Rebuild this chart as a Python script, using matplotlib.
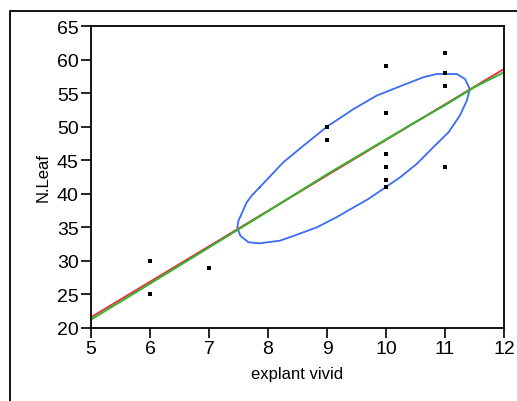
import matplotlib
matplotlib.use("Agg")
import matplotlib.pyplot as plt
from matplotlib.patches import Rectangle

plt.rcParams['font.family'] = ['Liberation Sans', 'DejaVu Sans']

# observed points
explant_vivid = [6, 6, 7, 9, 9, 10, 10, 10, 10, 10, 10, 11, 11, 11, 11]
n_leaf = [30, 25, 29, 50, 48, 59, 52, 46, 44, 42, 41, 61, 58, 56, 44]

# linear fit (red)
fit_x = [5, 12]
fit_y = [21.6, 58.6]

# smooth fit (green)
smooth_x = [5, 6, 7, 8, 9, 10, 10.5, 11, 11.5, 12]
smooth_y = [21.25, 26.6, 32.0, 37.4, 42.9, 48.1, 50.7, 53.2, 55.9, 58.1]

# density ellipse outline (blue)
ell_x = [7.86, 8.26, 8.60, 9.00, 9.45, 9.84, 10.24, 10.63, 10.86, 11.20, 11.34,
         11.42, 11.37, 11.25, 11.06, 10.80, 10.52, 10.24, 9.95, 9.70, 9.50, 9.16,
         8.83, 8.37, 8.20, 7.86, 7.67, 7.53, 7.48, 7.50, 7.64, 7.73, 7.86]
ell_y = [40.97, 44.69, 47.16, 50.0, 52.63, 54.62, 56.02, 57.36, 57.85, 57.85, 57.10,
         55.61, 53.87, 51.63, 49.16, 46.93, 44.44, 42.46, 40.71, 39.22, 38.22, 36.50,
         35.01, 33.52, 33.01, 32.62, 32.77, 33.75, 35.0, 35.99, 38.73, 39.8, 40.97]

fig = plt.figure(figsize=(5.17, 4.02), dpi=100)
ax = fig.add_axes([91 / 517, 1 - 329 / 402, (504 - 91) / 517, (329 - 27) / 402])

# outer frame running off the right and bottom edges
fig.add_artist(Rectangle((10 / 517, -0.5), 2, 1.5 - 12 / 402, transform=fig.transFigure,
                         fill=False, edgecolor='black', linewidth=1.3, clip_on=False))

ax.plot(ell_x, ell_y, color='#3a6cf4', linewidth=1.3)
ax.plot(fit_x, fit_y, color='#e8343c', linewidth=1.4)
ax.plot(smooth_x, smooth_y, color='#2fb52f', linewidth=1.4)
ax.scatter(explant_vivid, n_leaf, marker='s', s=5, color='black', linewidths=0, zorder=5)

ax.set_xlim(5, 12)
ax.set_ylim(20, 65)
ax.set_xticks(range(5, 13))
ax.set_yticks(range(20, 66, 5))
ax.tick_params(direction='out', length=7, width=1.2, labelsize=14, pad=2)
for s in ax.spines.values():
    s.set_linewidth(1.3)

ax.set_xlabel('explant vivid', fontsize=12, labelpad=6)
ax.set_ylabel('N.Leaf', fontsize=12, labelpad=4)

fig.savefig('out.png', dpi=100)
